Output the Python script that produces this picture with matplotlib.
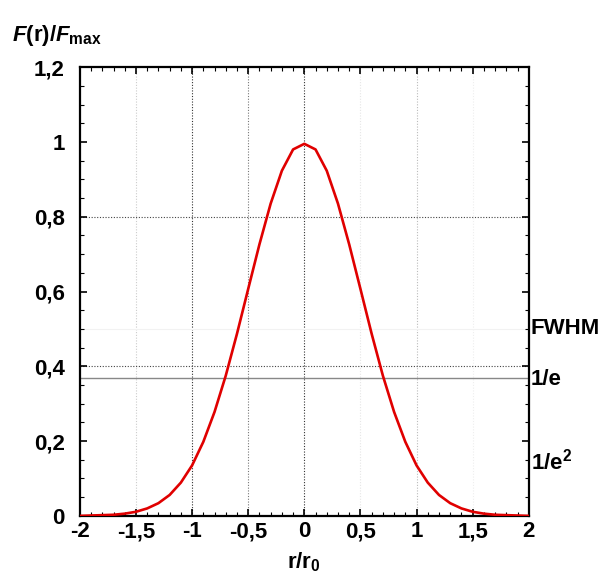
import matplotlib
matplotlib.use('Agg')
import matplotlib.pyplot as plt
from matplotlib.ticker import MultipleLocator, FuncFormatter

plt.rcParams['font.family'] = 'Liberation Sans'
plt.rcParams['font.weight'] = 'bold'
plt.rcParams['mathtext.fontset'] = 'custom'
plt.rcParams['mathtext.rm'] = 'Liberation Sans:bold'
plt.rcParams['mathtext.it'] = 'Liberation Sans:italic:bold'
plt.rcParams['mathtext.bf'] = 'Liberation Sans:bold'

# r/r0 sample points and normalised profile
r = [-2.0, -1.9, -1.8, -1.7, -1.6, -1.5, -1.4, -1.3, -1.2, -1.1, -1.0,
     -0.9, -0.8, -0.7, -0.6, -0.5, -0.4, -0.3, -0.2, -0.1, 0.0,
     0.1, 0.2, 0.3, 0.4, 0.5, 0.6, 0.7, 0.8, 0.9, 1.0,
     1.1, 1.2, 1.3, 1.4, 1.5, 1.6, 1.7, 1.8, 1.9, 2.0]
F = [0.000, 0.001, 0.002, 0.003, 0.006, 0.011, 0.020, 0.034, 0.056, 0.089, 0.135,
     0.198, 0.278, 0.375, 0.487, 0.607, 0.726, 0.835, 0.923, 0.980, 0.995,
     0.980, 0.923, 0.835, 0.726, 0.607, 0.487, 0.375, 0.278, 0.198, 0.135,
     0.089, 0.056, 0.034, 0.020, 0.011, 0.006, 0.003, 0.002, 0.001, 0.000]

# reference levels on the right
level_labels = ['FWHM', '1/e', '1/e$^2$']
level_values = [0.5, 0.365, 0.145]

fig = plt.figure(figsize=(6.05, 5.79), dpi=100)
ax = fig.add_axes([0.132, 0.109, 0.742, 0.775])

# grid lines (only some are visible in the original)
for x, c in [(-1.5, '#cccccc'), (-1.0, '#333333'), (-0.5, '#777777'),
             (0.0, '#333333'), (0.5, '#e6e6e6'), (1.0, '#bbbbbb'), (1.5, '#eeeeee')]:
    ax.axvline(x, color=c, linestyle=(0, (1, 1.5)), linewidth=0.8, zorder=1)
for y in [0.8, 0.4]:
    ax.axhline(y, color='#444444', linestyle=(0, (1, 1.5)), linewidth=0.8, zorder=1)
ax.axhline(0.5, color='#f2f2f2', linewidth=0.8, zorder=1)
ax.axhline(0.368, color='#888888', linewidth=1.0, zorder=1)

ax.plot(r, F, color='#e00000', linewidth=1.9, zorder=3)

ax.set_xlim(-2, 2)
ax.set_ylim(0, 1.2)
ax.xaxis.set_major_locator(MultipleLocator(0.5))
ax.xaxis.set_minor_locator(MultipleLocator(0.1))
ax.yaxis.set_major_locator(MultipleLocator(0.2))
ax.yaxis.set_minor_locator(MultipleLocator(0.05))

fmt = FuncFormatter(lambda v, p: ('%g' % round(v, 2)).replace('.', ','))
ax.xaxis.set_major_formatter(fmt)
ax.yaxis.set_major_formatter(fmt)

ax.tick_params(which='both', direction='in', top=True, right=True, labelsize=16)
ax.tick_params(which='major', length=5, width=1.2)
ax.tick_params(which='minor', length=3, width=0.8)
ax.tick_params(axis='y', pad=11)
ax.tick_params(axis='x', pad=4)
for s in ax.spines.values():
    s.set_linewidth(1.6)

for lab, val in zip(level_labels, level_values):
    ax.text(1.004, val, lab, transform=ax.get_yaxis_transform(), fontsize=16,
            fontweight='bold', ha='left', va='center')

fig.text(0.02, 0.93, r'$F$(r)/$F_{\rm max}$', fontsize=16, fontweight='bold')
ax.set_xlabel(r'r/r$_0$', fontsize=16, fontweight='bold', labelpad=6)

fig.savefig('out.png', dpi=100)
